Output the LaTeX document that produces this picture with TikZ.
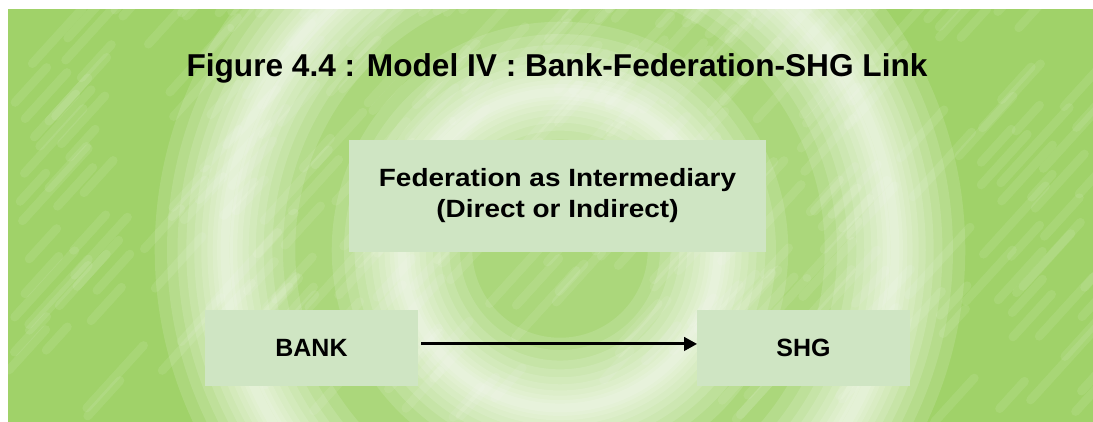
\documentclass[tikz,border=0pt]{standalone}
\usepackage{fontspec}
\setmainfont{Liberation Sans}
\newfontfamily\widefont[FakeStretch=1.12]{Liberation Sans}
\usetikzlibrary{arrows.meta}
\definecolor{bggreen}{RGB}{160,210,105}
\definecolor{boxgreen}{RGB}{207,229,195}
\tikzset{
  box/.style={fill=boxgreen,inner sep=0pt,align=center,
    font=\bfseries\fontsize{14.2}{17.6}\selectfont},
  ring/.style={white,opacity=#1},
  streak/.style={white,opacity=0.09,line width=5pt,line cap=round}
}
\begin{document}
\begin{tikzpicture}[x=0.02cm,y=-0.02cm]
\useasboundingbox (0,0) rectangle (1093,422);
% background
\fill[bggreen] (8,9) rectangle (1093,422);
\begin{scope}
\clip (8,9) rectangle (1093,422);
\pgfmathsetseed{11}
\foreach \i in {1,...,300} {
  \pgfmathsetmacro\sx{8+1085*rnd}
  \pgfmathsetmacro\sy{9+413*rnd}
  \pgfmathsetmacro\sl{20+50*rnd}
  \draw[streak] (\sx,\sy) -- ++(\sl,-1.1*\sl);
}
\fill[white,opacity=0.12] (560,250) circle (330);
\foreach \w in {80pt,66pt,54pt,44pt,35pt,27pt,20pt,14pt,9pt,5pt} {
  \draw[ring=0.13,line width=\w] (560,250) circle (335);
  \draw[ring=0.13,line width=\w] (560,250) circle (158);
}
\end{scope}
% title and boxes
\node[font=\bfseries\fontsize{18}{22}\selectfont] (title) at (557,68) {Figure 4.4 : Model IV : Bank-Federation-SHG Link};
\node[box,minimum width=237.5pt,minimum height=63.5pt,font=\widefont\bfseries\fontsize{14.2}{17.6}\selectfont] (fed) at (557.5,196) {Federation as Intermediary\\(Direct or Indirect)};
\node[box,minimum width=120.7pt,minimum height=43.1pt] (bank) at (311.5,348) {BANK};
\node[box,minimum width=120.7pt,minimum height=43.1pt] (shg) at (803.5,348) {SHG};
\draw[-{Triangle[length=7.4pt,width=7.6pt]},line width=1.7pt] ([xshift=2pt,yshift=2.3pt]bank.east) -- ([yshift=2.3pt]shg.west);
\end{tikzpicture}
\end{document}
